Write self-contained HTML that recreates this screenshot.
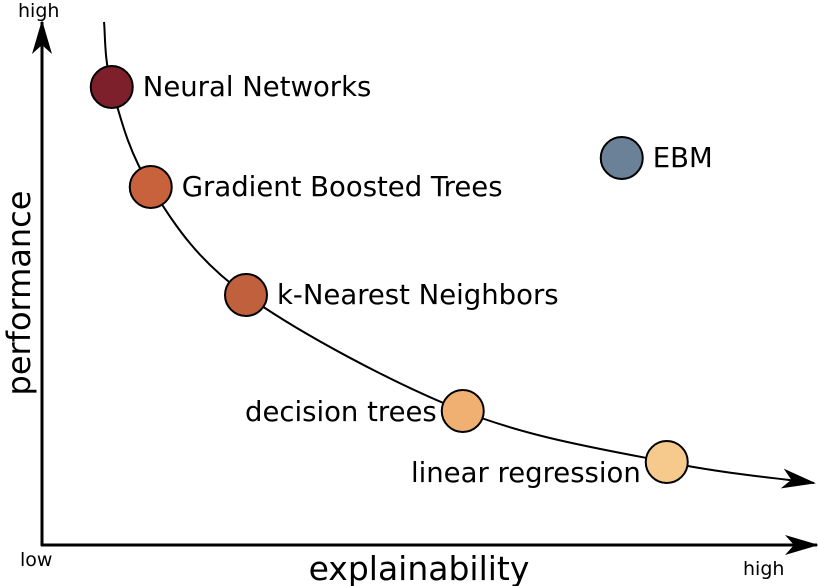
<!DOCTYPE html>
<html><head><meta charset="utf-8"><style>
html,body{margin:0;padding:0;background:#fff;}
svg{display:block;font-family:"DejaVu Sans","Liberation Sans",sans-serif;}
</style></head><body>
<svg id="c" width="818" height="586" viewBox="0 0 818 586">
<defs>
<marker id="ah" viewBox="0 0 34 20" refX="32" refY="10" markerWidth="34" markerHeight="20" markerUnits="userSpaceOnUse" orient="auto">
<path d="M0,0 L34,10 L0,20 L9,10 Z" fill="#000"/></marker>
</defs>
<line x1="42" y1="546" x2="42" y2="22" stroke="#000" stroke-width="3" marker-end="url(#ah)"/>
<line x1="41" y1="545" x2="817" y2="545" stroke="#000" stroke-width="3" marker-end="url(#ah)"/>
<text x="18" y="17" font-size="19">high</text>
<text x="20" y="566" font-size="19">low</text>
<text x="743" y="575" font-size="19">high</text>
<text x="419" y="580" font-size="33" text-anchor="middle">explainability</text>
<text transform="translate(30,293) rotate(-90)" font-size="32" text-anchor="middle">performance</text>
<g id="curve"></g>
<g id="pts"></g>
</svg>
<script>
const models=["Neural Networks","Gradient Boosted Trees","k-Nearest Neighbors","decision trees","linear regression","EBM"];
const explainability=[9.3,14.5,27.2,56.1,83.3,77.3];
const performance=[91.6,71.6,50.0,26.8,16.6,77.4];
const colors=["#7e1f2c","#c8623c","#c0603c","#f0b072","#f6c98c","#6a8198"];
const labelSide=["right","right","right","left","left","right"];
const labelDy=[9,9,9,10,20,9];
const onCurve=[true,true,true,true,true,false];
const xs=v=>42+v*7.5, ys=v=>545-v*5;
const NS="http://www.w3.org/2000/svg";
let cp=[[104,22]];
for(let i=0;i<models.length;i++) if(onCurve[i]) cp.push([xs(explainability[i]),ys(performance[i])]);
cp.push([814,483]);
let d="M"+cp[0][0]+","+cp[0][1];
for(let i=0;i<cp.length-1;i++){
 const p0=cp[Math.max(0,i-1)],p1=cp[i],p2=cp[i+1],p3=cp[Math.min(cp.length-1,i+2)];
 const c1=[p1[0]+(p2[0]-p0[0])/6,p1[1]+(p2[1]-p0[1])/6];
 const c2=[p2[0]-(p3[0]-p1[0])/6,p2[1]-(p3[1]-p1[1])/6];
 d+=` C${c1[0]},${c1[1]} ${c2[0]},${c2[1]} ${p2[0]},${p2[1]}`;
}
const path=document.createElementNS(NS,'path');
path.setAttribute('d',d);path.setAttribute('fill','none');path.setAttribute('stroke','#000');path.setAttribute('stroke-width','2');
path.setAttribute('marker-end','url(#ah)');


document.getElementById('curve').appendChild(path);
const g=document.getElementById('pts');
for(let i=0;i<models.length;i++){
 const cx=xs(explainability[i]),cy=ys(performance[i]);
 const c=document.createElementNS(NS,'circle');
 c.setAttribute('cx',cx);c.setAttribute('cy',cy);c.setAttribute('r',21);
 c.setAttribute('fill',colors[i]);c.setAttribute('stroke','#000');c.setAttribute('stroke-width','2');
 
 
 g.appendChild(c);
 const t=document.createElementNS(NS,'text');
 const r=labelSide[i]==='right';
 t.setAttribute('x',r?cx+31:cx-26);t.setAttribute('y',cy+labelDy[i]);
 t.setAttribute('text-anchor',r?'start':'end');t.setAttribute('font-size','27.5');
 t.textContent=models[i];
 
 
 g.appendChild(t);
}
</script>
</body></html>
